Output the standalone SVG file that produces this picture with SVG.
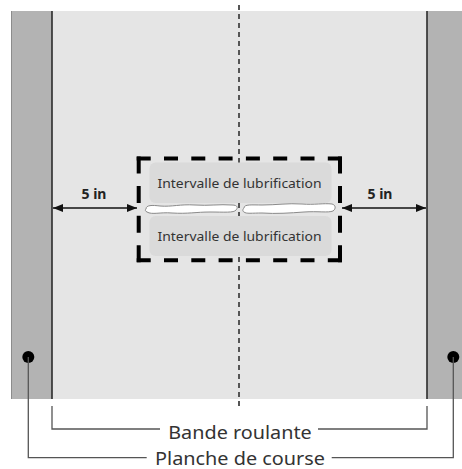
<svg xmlns="http://www.w3.org/2000/svg" width="462" height="469" viewBox="0 0 462 469">
  <defs>
    <marker id="arrow" viewBox="0 0 10 8" refX="10" refY="4" markerWidth="10" markerHeight="8" markerUnits="userSpaceOnUse" orient="auto-start-reverse">
      <path d="M0,0 L10,4 L0,8 Z" fill="#111"/>
    </marker>
    <style>
      .rail { fill: #b3b3b3; }
      .belt { fill: #e5e5e5; }
      .edge { stroke: #2b2b2b; stroke-width: 1.6; fill: none; }
      .center { stroke: #555; stroke-width: 2; stroke-dasharray: 5 4; fill: none; }
      .zone-h { stroke: #000; stroke-width: 4; fill: none; stroke-dasharray: 14 13.3; }
      .zone-v { stroke: #000; stroke-width: 4; fill: none; stroke-dasharray: 17 12.6; }
      .interval { fill: #dadada; }
      .interval-text { font-family: "Noto Sans", "Liberation Sans", sans-serif; font-size: 12.5px; fill: #333; text-anchor: middle; }
      .oil { fill: #fff; stroke: #8a8a8a; stroke-width: 1; }
      .dim { stroke: #111; stroke-width: 1.6; fill: none; }
      .dim-text { font-family: "Noto Sans", "Liberation Sans", sans-serif; font-size: 14px; font-weight: bold; fill: #222; text-anchor: middle; }
      .leader { stroke: #555; stroke-width: 1.3; fill: none; }
      .label { font-family: "Noto Sans", "Liberation Sans", sans-serif; font-size: 18.5px; fill: #333; text-anchor: middle; }
    </style>
  </defs>

  <!-- lane surface -->
  <g id="lane">
    <rect class="rail" x="11" y="11" width="41" height="388"/>
    <rect class="belt" x="52" y="11" width="375" height="388"/>
    <rect class="rail" x="427" y="11" width="35" height="388"/>
    <line x1="11.5" y1="11" x2="11.5" y2="399" stroke="#8c8c8c" stroke-width="1"/>
    <line class="edge" x1="52" y1="11" x2="52" y2="399"/>
    <line class="edge" x1="427" y1="11" x2="427" y2="399"/>
    <circle cx="28.3" cy="357" r="6" fill="#000"/>
    <circle cx="453.3" cy="357" r="6" fill="#000"/>
  </g>

  <!-- centre line -->
  <line class="center" x1="239" y1="5" x2="239" y2="406"/>

  <!-- lubrication zone -->
  <g id="zone">
    <rect class="interval" x="149.5" y="162.5" width="182" height="40.5" rx="6"/>
    <rect class="interval" x="149.5" y="216" width="182" height="40" rx="6"/>
    <text class="interval-text" x="239.5" y="187.7" textLength="164" lengthAdjust="spacingAndGlyphs">Intervalle de lubrification</text>
    <text class="interval-text" x="239.5" y="240.7" textLength="164" lengthAdjust="spacingAndGlyphs">Intervalle de lubrification</text>
    <path class="oil" d="M146,209 C146,205 152,205 160,206 C172,207 180,204 195,205 C208,206 220,204 232,205 C238,205 238,208 236,210 C234,213 224,212 210,212 C196,212 188,214 172,213 C160,212 152,215 147,212 C145,211 145,210 146,209 Z"/>
    <path class="oil" d="M244,208 C244,204 252,205 262,205 C276,205 288,203 302,204 C314,205 324,203 332,204 C336,205 336,209 333,211 C328,213 318,211 304,212 C290,213 276,214 262,213 C252,213 246,214 244,212 C242,211 243,209 244,208 Z"/>
    <line class="zone-h" x1="136.7" y1="158.5" x2="342" y2="158.5"/>
    <line class="zone-h" x1="136.7" y1="260.3" x2="342" y2="260.3"/>
    <line class="zone-v" x1="138.7" y1="156.5" x2="138.7" y2="262.3"/>
    <line class="zone-v" x1="340" y1="156.5" x2="340" y2="262.3"/>
  </g>

  <!-- dimensions -->
  <g id="dimensions">
    <line class="dim" x1="53" y1="208" x2="137" y2="208" marker-start="url(#arrow)" marker-end="url(#arrow)"/>
    <line class="dim" x1="342" y1="208" x2="426" y2="208" marker-start="url(#arrow)" marker-end="url(#arrow)"/>
    <text class="dim-text" x="94" y="198.5">5 in</text>
    <text class="dim-text" x="380" y="198.5">5 in</text>
  </g>

  <!-- leaders -->
  <g id="connectors">
    <polyline class="leader" points="52,406 52,429 160,429"/>
    <polyline class="leader" points="318,429 427,429 427,406"/>
    <polyline class="leader" points="28.3,357 28.3,457.7 146.7,457.7"/>
    <polyline class="leader" points="331.7,457.7 453.3,457.7 453.3,357"/>
  </g>

  <g id="label-belt">
    <text class="label" x="240" y="439.3" textLength="143.5" lengthAdjust="spacingAndGlyphs">Bande roulante</text>
  </g>
  <g id="label-board">
    <text class="label" x="240" y="465" textLength="170" lengthAdjust="spacingAndGlyphs">Planche de course</text>
  </g>
</svg>
